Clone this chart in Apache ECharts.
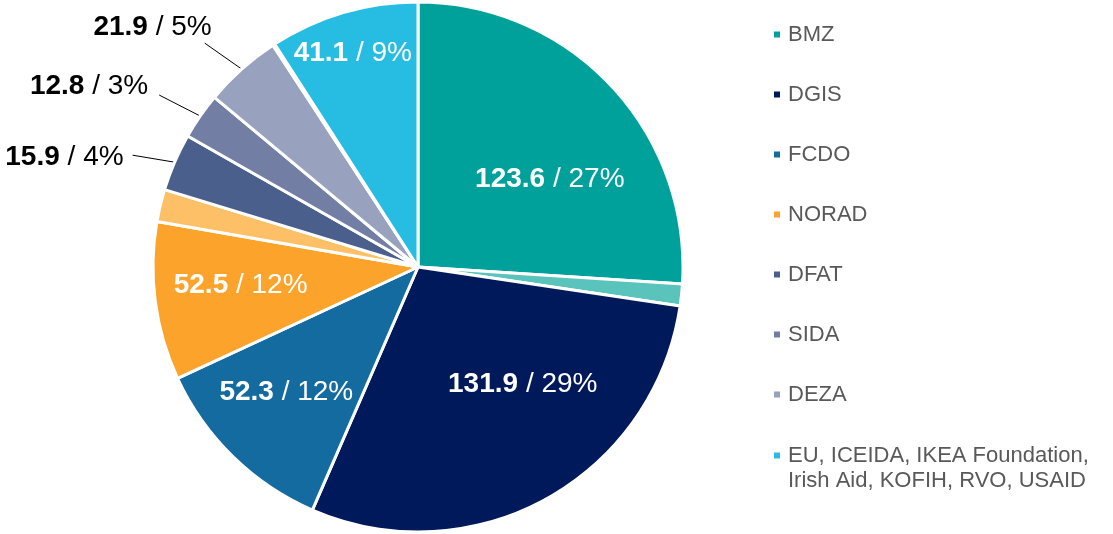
<!DOCTYPE html>
<html>
<head>
<meta charset="utf-8">
<script src="https://cdn.jsdelivr.net/npm/echarts@6/dist/echarts.min.js"></script>
<style>
html, body { margin: 0; padding: 0; background: #fff; }
#chart { width: 1113px; height: 534px; }
</style>
</head>
<body>
<div id="chart"></div>
<script>
const donors = ['BMZ', 'DGIS', 'FCDO', 'NORAD', 'DFAT', 'SIDA', 'DEZA',
  'EU, ICEIDA, IKEA Foundation, Irish Aid, KOFIH, RVO, USAID']
const totals = [123.6, 131.9, 52.3, 52.5, 15.9, 12.8, 21.9, 41.1]
// lighter sub-part drawn right after a donor's main slice (part of its total)
const subParts = [6.0, 0, 0, 8.9, 0, 0, 0.6, 0]

const colors = ['#00a19a', '#00195a', '#136b9f', '#fba32a', '#4a5f8c', '#727ea4', '#98a1bd', '#27bde2']
const subColors = ['#5ac4bc', null, null, '#fec066', null, null, '#e2e5ee', null]

// inside labels: shift from the default mid-radius spot
const insideShift = [[33, 5], [39, -1], [-37, 28], [-43, 1], null, null, null, [-27, -84]]
// outside labels: leader vector from the slice edge, then text anchor (right edge, middle) from leader end
const leader = [null, null, null, null, [-42, -7], [-41, -21], [-37, -26], null]
const textNudge = [null, null, null, null, [-9, 2], [-11, -9], [7, -16], null]

const FONT = '"Liberation Sans", Arial, Helvetica, sans-serif'
const grand = totals.reduce((a, b) => a + b, 0)

const pieData = []
const donorOf = []
donors.forEach((name, i) => {
  const pct = Math.round(totals[i] / grand * 100)
  const inside = !!insideShift[i]
  const txt = inside ? '#fff' : '#000'
  pieData.push({
    name,
    value: +(totals[i] - subParts[i]).toFixed(1),
    itemStyle: { color: colors[i] },
    label: {
      show: true,
      position: inside ? 'inside' : 'outside',
      formatter: `{b|${totals[i].toFixed(1)}}{n| / ${pct}%}`,
      rich: {
        b: { color: txt, fontFamily: FONT, fontSize: 28, fontWeight: 'bold' },
        n: { color: txt, fontFamily: FONT, fontSize: 28 }
      }
    },
    labelLine: { show: !inside, length: 30, length2: 0, lineStyle: { color: '#000', width: 1 } }
  })
  donorOf.push(i)
  if (subParts[i] > 0) {
    pieData.push({
      name: name + ' (part)',
      value: subParts[i],
      itemStyle: { color: subColors[i] },
      label: { show: false },
      labelLine: { show: false }
    })
    donorOf.push(null)
  }
})

const legendBase = {
  orient: 'vertical',
  left: 772,
  padding: 0,
  icon: 'rect',
  itemWidth: 8,
  itemHeight: 8,
  itemGap: 35,
  selectedMode: false,
  textStyle: { fontFamily: FONT, fontSize: 22, lineHeight: 25, color: '#595959', padding: [0, 0, 0, 2] }
}

const chart = echarts.init(document.getElementById('chart'))
chart.setOption({
  animation: false,
  legend: [
    { ...legendBase, top: 22, data: donors.slice(0, 7) },
    // two-line entry: a leading blank line keeps the first line level with the marker
    {
      ...legendBase,
      top: 418,
      formatter: n => '\n' + n.replace('Foundation, ', 'Foundation,\n'),
      data: [donors[7]]
    }
  ],
  series: [{
    type: 'pie',
    center: [418, 267],
    radius: 265,
    startAngle: 90,
    clockwise: true,
    avoidLabelOverlap: false,
    minShowLabelAngle: 0,
    emphasis: { disabled: true },
    itemStyle: { borderColor: '#fff', borderWidth: 3 },
    labelLayout: p => {
      const k = donorOf[p.dataIndex]
      if (k == null) return {}
      const r = p.labelRect
      if (insideShift[k]) {
        return {
          x: r.x + r.width / 2 + insideShift[k][0],
          y: r.y + r.height / 2 + insideShift[k][1]
        }
      }
      if (leader[k] && p.labelLinePoints) {
        const s = p.labelLinePoints[0]
        const e = [s[0] + leader[k][0], s[1] + leader[k][1]]
        return {
          x: e[0] + textNudge[k][0],
          y: e[1] + textNudge[k][1],
          align: 'right',
          verticalAlign: 'middle',
          labelLinePoints: [s, e]
        }
      }
      return {}
    },
    data: pieData
  }]
})
</script>
</body>
</html>
